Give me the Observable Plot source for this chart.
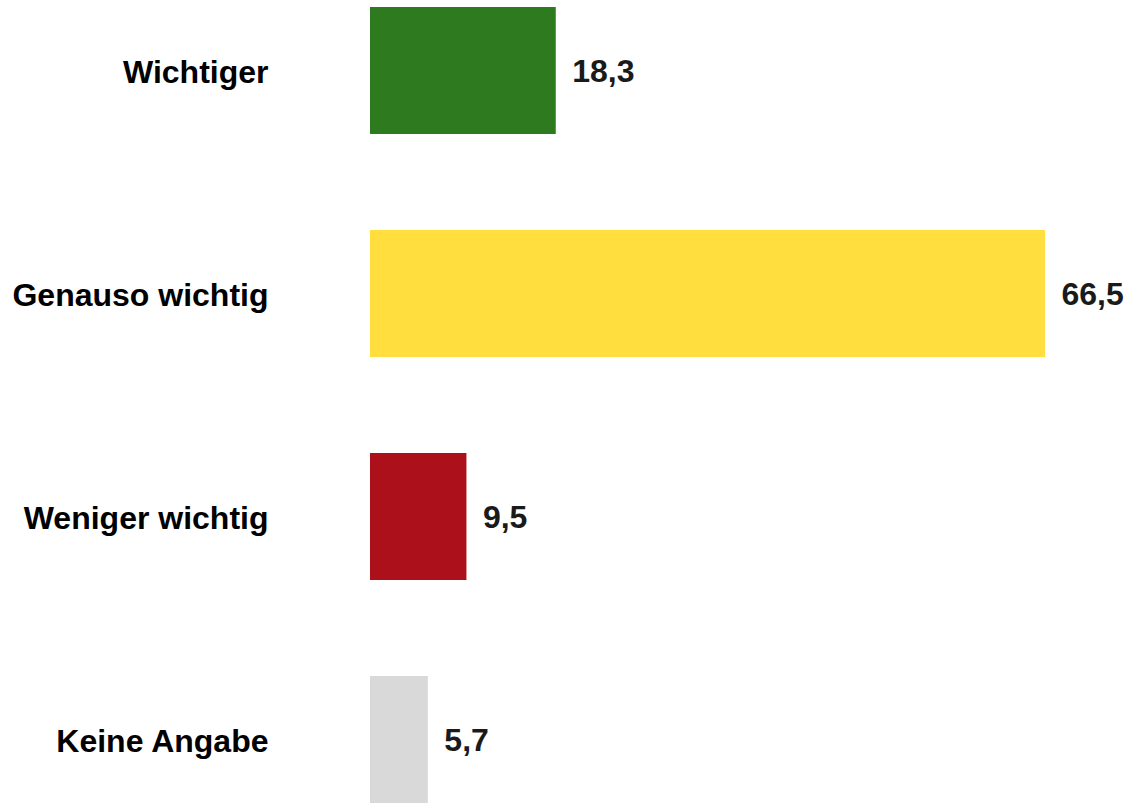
<!DOCTYPE html>
<html>
<head>
<meta charset="utf-8">
<script src="https://cdn.jsdelivr.net/npm/d3@7"></script>
<script src="https://cdn.jsdelivr.net/npm/@observablehq/plot@0.6"></script>
<style>
  html, body { margin: 0; padding: 0; background: #fff; }
  #chart svg { display: block; }
</style>
</head>
<body>
<div id="chart"></div>
<script>
const categories = ["Wichtiger", "Genauso wichtig", "Weniger wichtig", "Keine Angabe"];
const values = [18.3, 66.5, 9.5, 5.7];
const colors = ["#2d7a1f", "#ffde3e", "#ab101b", "#d9d9d9"];
const valueLabels = ["18,3", "66,5", "9,5", "5,7"];

const data = categories.map((c, i) => ({category: c, value: values[i], label: valueLabels[i]}));

const chart = Plot.plot({
  width: 1124,
  height: 804,
  marginLeft: 370,
  marginRight: 79,
  marginTop: 5.5,
  marginBottom: 0,
  style: {fontFamily: "Liberation Sans, Arial, sans-serif", background: "#fff"},
  x: {domain: [0, 66.5], axis: null},
  y: {domain: categories, paddingInner: 0.4286, paddingOuter: 0, label: null},
  color: {domain: categories, range: colors},
  marks: [
    Plot.barX(data, {x: "value", y: "category", fill: "category"}),
    Plot.text(data, {x: "value", y: "category", text: "label", textAnchor: "start", dx: 16, dy: 1,
      fontSize: 32, fontWeight: "bold", fill: "#1a1a1a"}),
    Plot.axisY({tickSize: 0, tickPadding: 102, fontSize: 32, fontWeight: "bold", color: "#000", dy: 2, label: null})
  ]
});
document.getElementById("chart").appendChild(chart);
</script>
</body>
</html>
